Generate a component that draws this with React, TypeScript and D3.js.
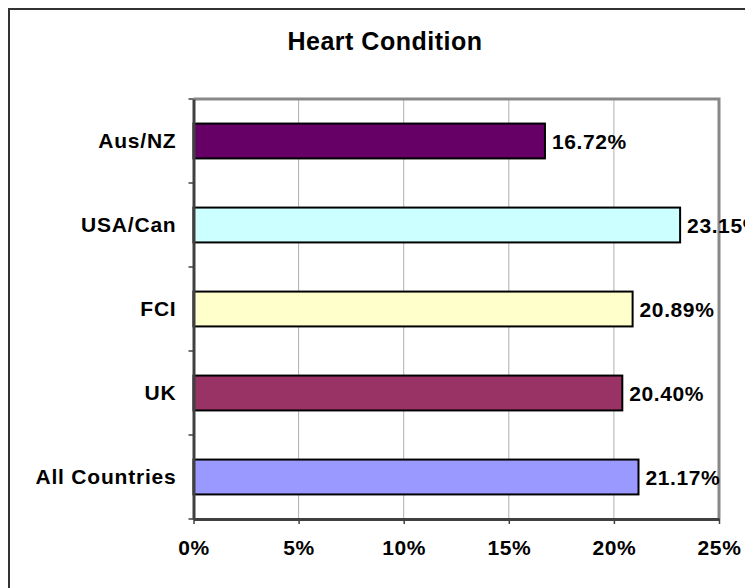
import React, { useEffect, useRef } from 'react';
import * as d3 from 'd3';

// chart data
const categories = ['Aus/NZ', 'USA/Can', 'FCI', 'UK', 'All Countries'];
const values = [16.72, 23.15, 20.89, 20.4, 21.17];
const barColors = ['#660066', '#CCFFFF', '#FFFFCC', '#993366', '#9999FF'];
const xTicks = [0, 5, 10, 15, 20, 25];
const title = 'Heart Condition';

export default function App() {
  const ref = useRef<SVGSVGElement | null>(null);
  const width = 745;
  const height = 580;
  const plot = { left: 185.5, right: 711, top: 91, bottom: 511 };
  const font = 'Arial, "Liberation Sans", Helvetica, sans-serif';

  useEffect(() => {
    const svg = d3.select(ref.current);
    svg.selectAll('*').remove();

    // outer chart frame (right/bottom fall outside the window)
    svg
      .append('rect')
      .attr('x', 1)
      .attr('y', 1)
      .attr('width', 900)
      .attr('height', 900)
      .attr('fill', '#fff')
      .attr('stroke', '#333')
      .attr('stroke-width', 2);

    const x = d3.scaleLinear().domain([0, 25]).range([plot.left, plot.right]);
    const y = d3
      .scaleBand()
      .domain(categories)
      .range([plot.top, plot.bottom])
      .paddingInner(0.585)
      .paddingOuter(0.2925);

    // title
    svg
      .append('text')
      .attr('x', 377)
      .attr('y', 42)
      .attr('text-anchor', 'middle')
      .style('font-family', font)
      .style('font-weight', 'bold')
      .style('font-size', '25px')
      .style('letter-spacing', '0.5px')
      .text(title);

    // gridlines
    svg
      .append('g')
      .selectAll('line')
      .data(xTicks.slice(1, -1))
      .enter()
      .append('line')
      .attr('x1', (d) => x(d))
      .attr('x2', (d) => x(d))
      .attr('y1', plot.top)
      .attr('y2', plot.bottom)
      .attr('stroke', '#b0b0b0')
      .attr('stroke-width', 1);

    // plot border top/right in grey
    svg
      .append('path')
      .attr('d', `M${plot.left},${plot.top}H${plot.right}V${plot.bottom}`)
      .attr('fill', 'none')
      .attr('stroke', '#888')
      .attr('stroke-width', 3);

    // bars
    svg
      .append('g')
      .selectAll('rect')
      .data(values)
      .enter()
      .append('rect')
      .attr('x', x(0))
      .attr('y', (d, i) => y(categories[i]) as number)
      .attr('width', (d) => x(d) - x(0))
      .attr('height', y.bandwidth())
      .attr('fill', (d, i) => barColors[i])
      .attr('stroke', '#000')
      .attr('stroke-width', 2);

    // value labels
    svg
      .append('g')
      .selectAll('text')
      .data(values)
      .enter()
      .append('text')
      .attr('x', (d) => x(d) + 7)
      .attr('y', (d, i) => (y(categories[i]) as number) + y.bandwidth() / 2)
      .attr('dy', '0.36em')
      .style('font-family', font)
      .style('font-weight', 'bold')
      .style('font-size', '21px')
      .style('letter-spacing', '0.6px')
      .text((d) => d.toFixed(2) + '%');

    // x axis
    const xAxis = d3
      .axisBottom(x)
      .tickValues(xTicks)
      .tickSize(5)
      .tickSizeOuter(0)
      .tickPadding(16)
      .tickFormat((d) => d + '%');
    const gx = svg
      .append('g')
      .attr('transform', `translate(0,${plot.bottom})`)
      .call(xAxis);
    gx.select('.domain').attr('stroke', '#404040').attr('stroke-width', 3);
    gx.selectAll('.tick line').attr('stroke', '#404040').attr('stroke-width', 1.5);
    gx.selectAll('.tick text')
      .attr('fill', '#000')
      .style('font-family', font)
      .style('font-weight', 'bold')
      .style('font-size', '21px')
      .style('letter-spacing', '0.6px');

    // y axis: ticks sit on the band edges
    const yAxis = d3.axisLeft(y).tickSize(0).tickSizeOuter(0).tickPadding(17);
    const gy = svg
      .append('g')
      .attr('transform', `translate(${plot.left},0)`)
      .call(yAxis);
    gy.select('.domain').attr('stroke', '#404040').attr('stroke-width', 3);
    gy.selectAll('.tick text')
      .attr('fill', '#000')
      .style('font-family', font)
      .style('font-weight', 'bold')
      .style('font-size', '21px')
      .style('letter-spacing', '0.8px');
    const step = y.step();
    gy.selectAll('.edge')
      .data(d3.range(categories.length + 1))
      .enter()
      .append('line')
      .attr('class', 'edge')
      .attr('x1', -5)
      .attr('x2', 0)
      .attr('y1', (i) => plot.top + i * step)
      .attr('y2', (i) => plot.top + i * step)
      .attr('stroke', '#404040')
      .attr('stroke-width', 1.5);
  }, []);

  return <svg ref={ref} width={width} height={height} style={{ display: 'block' }} />;
}
